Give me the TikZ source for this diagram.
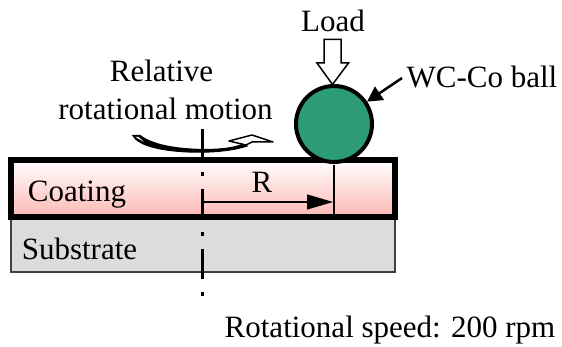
\documentclass[tikz,border=0pt]{standalone}
\usepackage{fontspec}
\setmainfont{Liberation Serif}
\usetikzlibrary{arrows.meta}
\definecolor{ballgreen}{HTML}{2B9C73}
\definecolor{coatred}{HTML}{FDB9B4}
\definecolor{subgray}{HTML}{DCDCDC}
\tikzset{
  label/.style={inner sep=0pt,anchor=base,font=\fontsize{31}{36}\selectfont},
}
\begin{document}
\begin{tikzpicture}[x=1pt,y=-1pt]
  \useasboundingbox (0,0) rectangle (562,347);
  % layers
  \draw[line width=2pt,draw=black!75,fill=subgray] (11,218) rectangle (395,272.5);
  \shade[top color=white,bottom color=coatred] (11,160) rectangle (394.5,217);
  \draw[line width=6pt] (11,160) rectangle (394.5,217);
  % axis
  \coordinate (axistop) at (202.5,129);
  \coordinate (axisbot) at (202.5,298);
  \draw[line width=3pt,dash pattern=on 30pt off 13pt on 4pt off 13pt] (axistop) -- (axisbot);
  % ball and load
  \node[circle,draw,line width=4pt,fill=ballgreen,minimum size=76pt,inner sep=0pt] (ball) at (334,124) {};
  \draw[line width=1.5pt,fill=white] (324,39.5) -- (341,39.5) -- (341,63) -- (348.5,63) -- (332.5,84.5)
    -- (317,63) -- (324,63) -- cycle;
  % radius
  \coordinate (contact) at (334,165);
  \coordinate (contactbot) at (334,214);
  \coordinate (axisR) at (202.5,202);
  \coordinate (endR) at (333,202);
  \draw[line width=1.2pt] (contact) -- (contactbot);
  \draw[line width=1.2pt,-{Triangle[length=26pt,width=15pt]}] (axisR) -- (endR);
  % motion arrow
  \draw[line width=1.2pt,fill=black] (133,135.5) -- (140,135.5) .. controls (155,147) and (185,149.5) .. (205,149.5)
    .. controls (222,149.5) and (235,148) .. (246,143) -- (247,146) .. controls (225,153) and (195,153) .. (175,151)
    .. controls (155,149) and (137,144) .. cycle;
  \fill[white] (135.5,137) -- (138.5,137) -- (144,142) -- cycle;
  \draw[line width=1.5pt,fill=white,line join=round] (229,141) -- (252,135) -- (273,142) -- (252,142) -- (246,145) -- cycle;
  % labels
  \node[label] (load) at (333,32) {Load};
  \node[label] (motion1) at (161.5,82) {Relative};
  \node[label] (motion2) at (165.5,120) {rotational motion};
  \node[label] (wcco) at (482,88) {WC-Co ball};
  \node[label] (coating) at (77,202) {Coating};
  \node[label] (substrate) at (79.5,260) {Substrate};
  \node[label] (radius) at (262,193) {R};
  \node[label] (speed) at (390,337) {Rotational speed: 200 rpm};
  \coordinate (wcstart) at (402,78);
  \draw[line width=2.5pt,-{Triangle[length=15pt,width=16pt]}] (wcstart) -- (ball);
\end{tikzpicture}
\end{document}
